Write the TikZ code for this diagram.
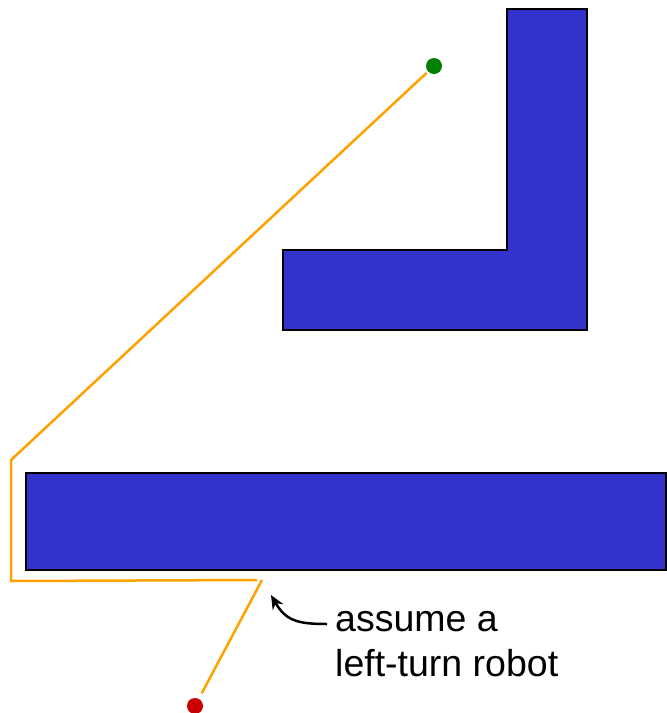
\documentclass[tikz,border=0pt]{standalone}
\usepackage{fontspec}
\setmainfont{Liberation Sans}
\usepackage{tikz}
\usetikzlibrary{arrows.meta}

\definecolor{wall}{RGB}{51,51,204}
\definecolor{trailorange}{RGB}{255,162,0}
\definecolor{goalgreen}{RGB}{0,128,0}
\definecolor{startred}{RGB}{204,0,0}

\begin{document}
\begin{tikzpicture}[x=1pt, y=-1pt,
  obst/.style={draw=black, fill=wall, line width=2.5pt},
  trail/.style={draw=trailorange, line width=2.5pt},
  dot/.style={circle, inner sep=0pt, minimum size=16pt},
  lbl/.style={align=left, inner sep=0pt, font=\fontsize{37.5}{45}\selectfont},
  arr/.style={-{Stealth[length=14pt, width=12pt]}, line width=2.5pt}
]
\useasboundingbox (0,0) rectangle (667,713);
% obstacles
\draw[obst] (507,9) -- (587,9) -- (587,330) -- (283,330) -- (283,250) -- (507,250) -- cycle;
\draw[obst] (26,473) rectangle (666,570);
% goal and start
\node[dot, fill=goalgreen] (goal) at (434,66) {};
\node[dot, fill=startred] (start) at (195,706) {};
% path of the robot
\draw[trail, shorten <=2pt] (goal) -- (11,460) -- (11,581) -- (257,580);
\draw[trail, shorten >=6pt] (262,580) -- (start);
% note
\node[lbl, anchor=base west] (note) at (335,676.7) {assume a\\left-turn robot};
\draw[arr] ([shift={(-8,-52.7)}]note.base west) .. controls (298,624) and (286,621) .. (271,595);
\end{tikzpicture}
\end{document}
